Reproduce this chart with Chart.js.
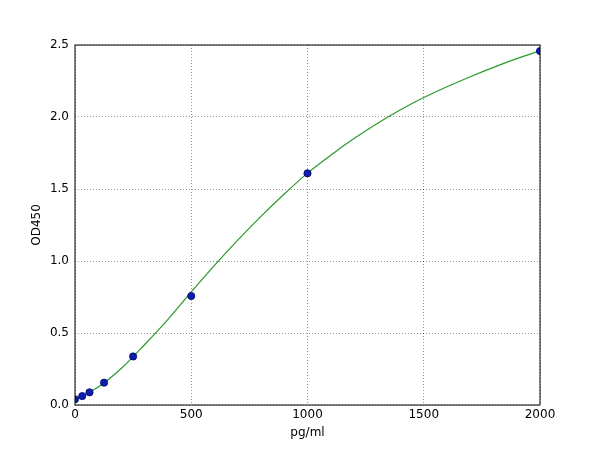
<!DOCTYPE html>
<html>
<head>
<meta charset="utf-8">
<script src="https://cdn.jsdelivr.net/npm/chart.js@4"></script>
<style>
  html, body { margin: 0; padding: 0; background: #fff; }
  #wrap { width: 600px; height: 450px; }
</style>
</head>
<body>
<div id="wrap"><canvas id="curveChart" width="600" height="450"></canvas></div>
<script>
// standards (pg/ml) and measured OD450
var concentrations = [0, 31.25, 62.5, 125, 250, 500, 1000, 2000];
var odValues = [0.04, 0.062, 0.088, 0.155, 0.337, 0.757, 1.609, 2.458];

// fitted curve, every 100 pg/ml
var curveX = [0, 100, 200, 300, 400, 500, 600, 700, 800, 900, 1000,
              1100, 1200, 1300, 1400, 1500, 1600, 1700, 1800, 1900, 2000];
var curveY = [0.04, 0.125, 0.255, 0.42, 0.595, 0.785, 0.97, 1.145, 1.31, 1.465, 1.61,
              1.735, 1.85, 1.955, 2.05, 2.135, 2.21, 2.28, 2.345, 2.405, 2.46];

var xTicks = [0, 500, 1000, 1500, 2000];
var yTicks = [0.0, 0.5, 1.0, 1.5, 2.0, 2.5];

document.addEventListener("DOMContentLoaded", function() {
  var font = { family: "'DejaVu Sans', sans-serif", size: 12 };

  // box around the plot area, like the matplotlib frame
  var frame = {
    id: "frame",
    afterDraw: function(chart) {
      var a = chart.chartArea;
      var c = chart.ctx;
      c.save();
      c.strokeStyle = "#000";
      c.lineWidth = 1;
      c.strokeRect(a.left, a.top, a.right - a.left, a.bottom - a.top);
      c.restore();
    }
  };

  var config = {
    type: "scatter",
    data: {
      datasets: [
        {
          label: "fit",
          type: "line",
          data: curveX.map(function(x, i) { return { x: x, y: curveY[i] }; }),
          borderColor: "#2a9a2a",
          borderWidth: 1.2,
          pointRadius: 0,
          fill: false,
          cubicInterpolationMode: "monotone",
          order: 2
        },
        {
          label: "standards",
          data: concentrations.map(function(x, i) { return { x: x, y: odValues[i] }; }),
          backgroundColor: "#0a1fb0",
          borderColor: "#000066",
          borderWidth: 0.8,
          pointRadius: 3.6,
          order: 1
        }
      ]
    },
    options: {
      responsive: false,
      animation: false,
      layout: { padding: { top: 45, right: 60, left: 0, bottom: 0 } },
      plugins: { legend: { display: false }, tooltip: { enabled: false } },
      scales: {
        x: {
          type: "linear",
          min: 0,
          max: 2000,
          afterFit: function(s) { s.height = 45; },
          afterBuildTicks: function(s) { s.ticks = xTicks.map(function(v) { return { value: v }; }); },
          ticks: {
            font: font, color: "#000", padding: 3, maxRotation: 0,
            callback: function(v) { return String(v); }
          },
          grid: { color: "rgba(0,0,0,0.5)", lineWidth: 0.8, drawTicks: false },
          border: { display: false, dash: [1, 2] },
          title: { display: true, text: "pg/ml", font: font, color: "#000", padding: { top: 0, bottom: 10 } }
        },
        y: {
          min: 0,
          max: 2.5,
          afterFit: function(s) { s.width = 75; },
          afterBuildTicks: function(s) { s.ticks = yTicks.map(function(v) { return { value: v }; }); },
          ticks: {
            font: font, color: "#000", padding: 6,
            callback: function(v) { return Number(v).toFixed(1); }
          },
          grid: { color: "rgba(0,0,0,0.5)", lineWidth: 0.8, drawTicks: false },
          border: { display: false, dash: [1, 2] },
          title: { display: true, text: "OD450", font: font, color: "#000", padding: { top: 30, bottom: 0 } }
        }
      }
    },
    plugins: [frame]
  };

  var ctx = document.getElementById("curveChart").getContext("2d");
  new Chart(ctx, config);
});
</script>
</body>
</html>
